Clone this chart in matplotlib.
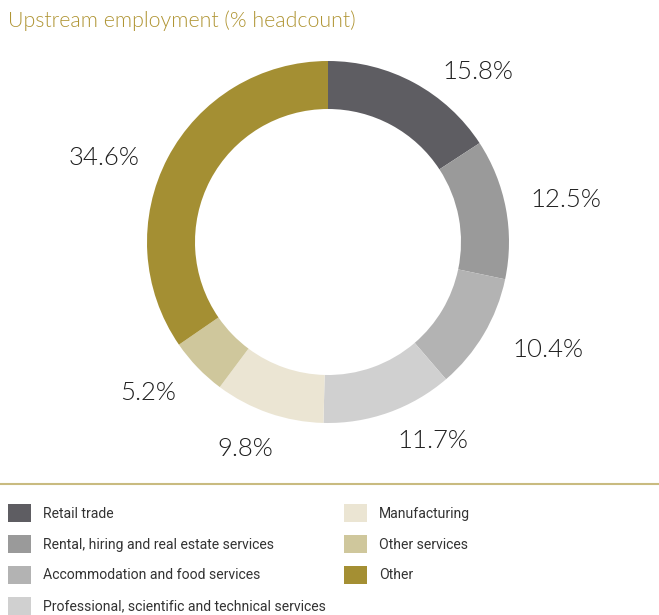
import matplotlib
matplotlib.use("Agg")
import matplotlib.pyplot as plt
from matplotlib.lines import Line2D

categories = ["Retail trade", "Rental, hiring and real estate services",
              "Accommodation and food services",
              "Professional, scientific and technical services",
              "Manufacturing", "Other services", "Other"]
values = [15.8, 12.5, 10.4, 11.7, 9.8, 5.2, 34.6]
labels = ["15.8%", "12.5%", "10.4%", "11.7%", "9.8%", "5.2%", "34.6%"]
colors = ["#5e5d62", "#9a9a9a", "#b3b3b3", "#d0d0d0", "#ebe5d3", "#cfc79c", "#a48f33"]

# label centres in pixel coords (from top-left)
label_pos = [(478, 72), (566, 200), (548, 350), (433, 441), (245, 449), (148, 393), (104, 158)]

W, H = 659, 615
fig = plt.figure(figsize=(W / 100, H / 100), dpi=100)
ax = fig.add_axes([0, 0, 1, 1])

wedges, _ = ax.pie(values, colors=colors, startangle=90, counterclock=False,
                   center=(328, H - 242), radius=181, frame=True,
                   wedgeprops=dict(width=48, linewidth=0))
ax.set_xlim(0, W)
ax.set_ylim(0, H)
ax.set_aspect("equal")
ax.axis("off")

for (x, y), t in zip(label_pos, labels):
    ax.text(x, H - y, t, ha="center", va="center", fontsize=18.5,
            family="Lato", fontweight=300, color="#1e1e1e")

ax.text(8, H - 21, "Upstream employment (% headcount)", ha="left", va="center",
        fontsize=15.4, family="Lato", fontweight=300, color="#b09534")

ax.add_line(Line2D([0, W], [H - 484, H - 484], color="#c9bb80", linewidth=1.5))

leg = ax.legend(wedges, categories, ncol=2, loc="upper left",
                bbox_to_anchor=(8 / W, 1 - 504 / H), frameon=False,
                borderpad=0, borderaxespad=0,
                handlelength=1.65, handleheight=1.6, handletextpad=0.85,
                labelspacing=0.92, columnspacing=1.3,
                prop=dict(family="Roboto", size=10.1))
for t in leg.get_texts():
    t.set_color("#333333")

fig.savefig("out.png", dpi=100)
